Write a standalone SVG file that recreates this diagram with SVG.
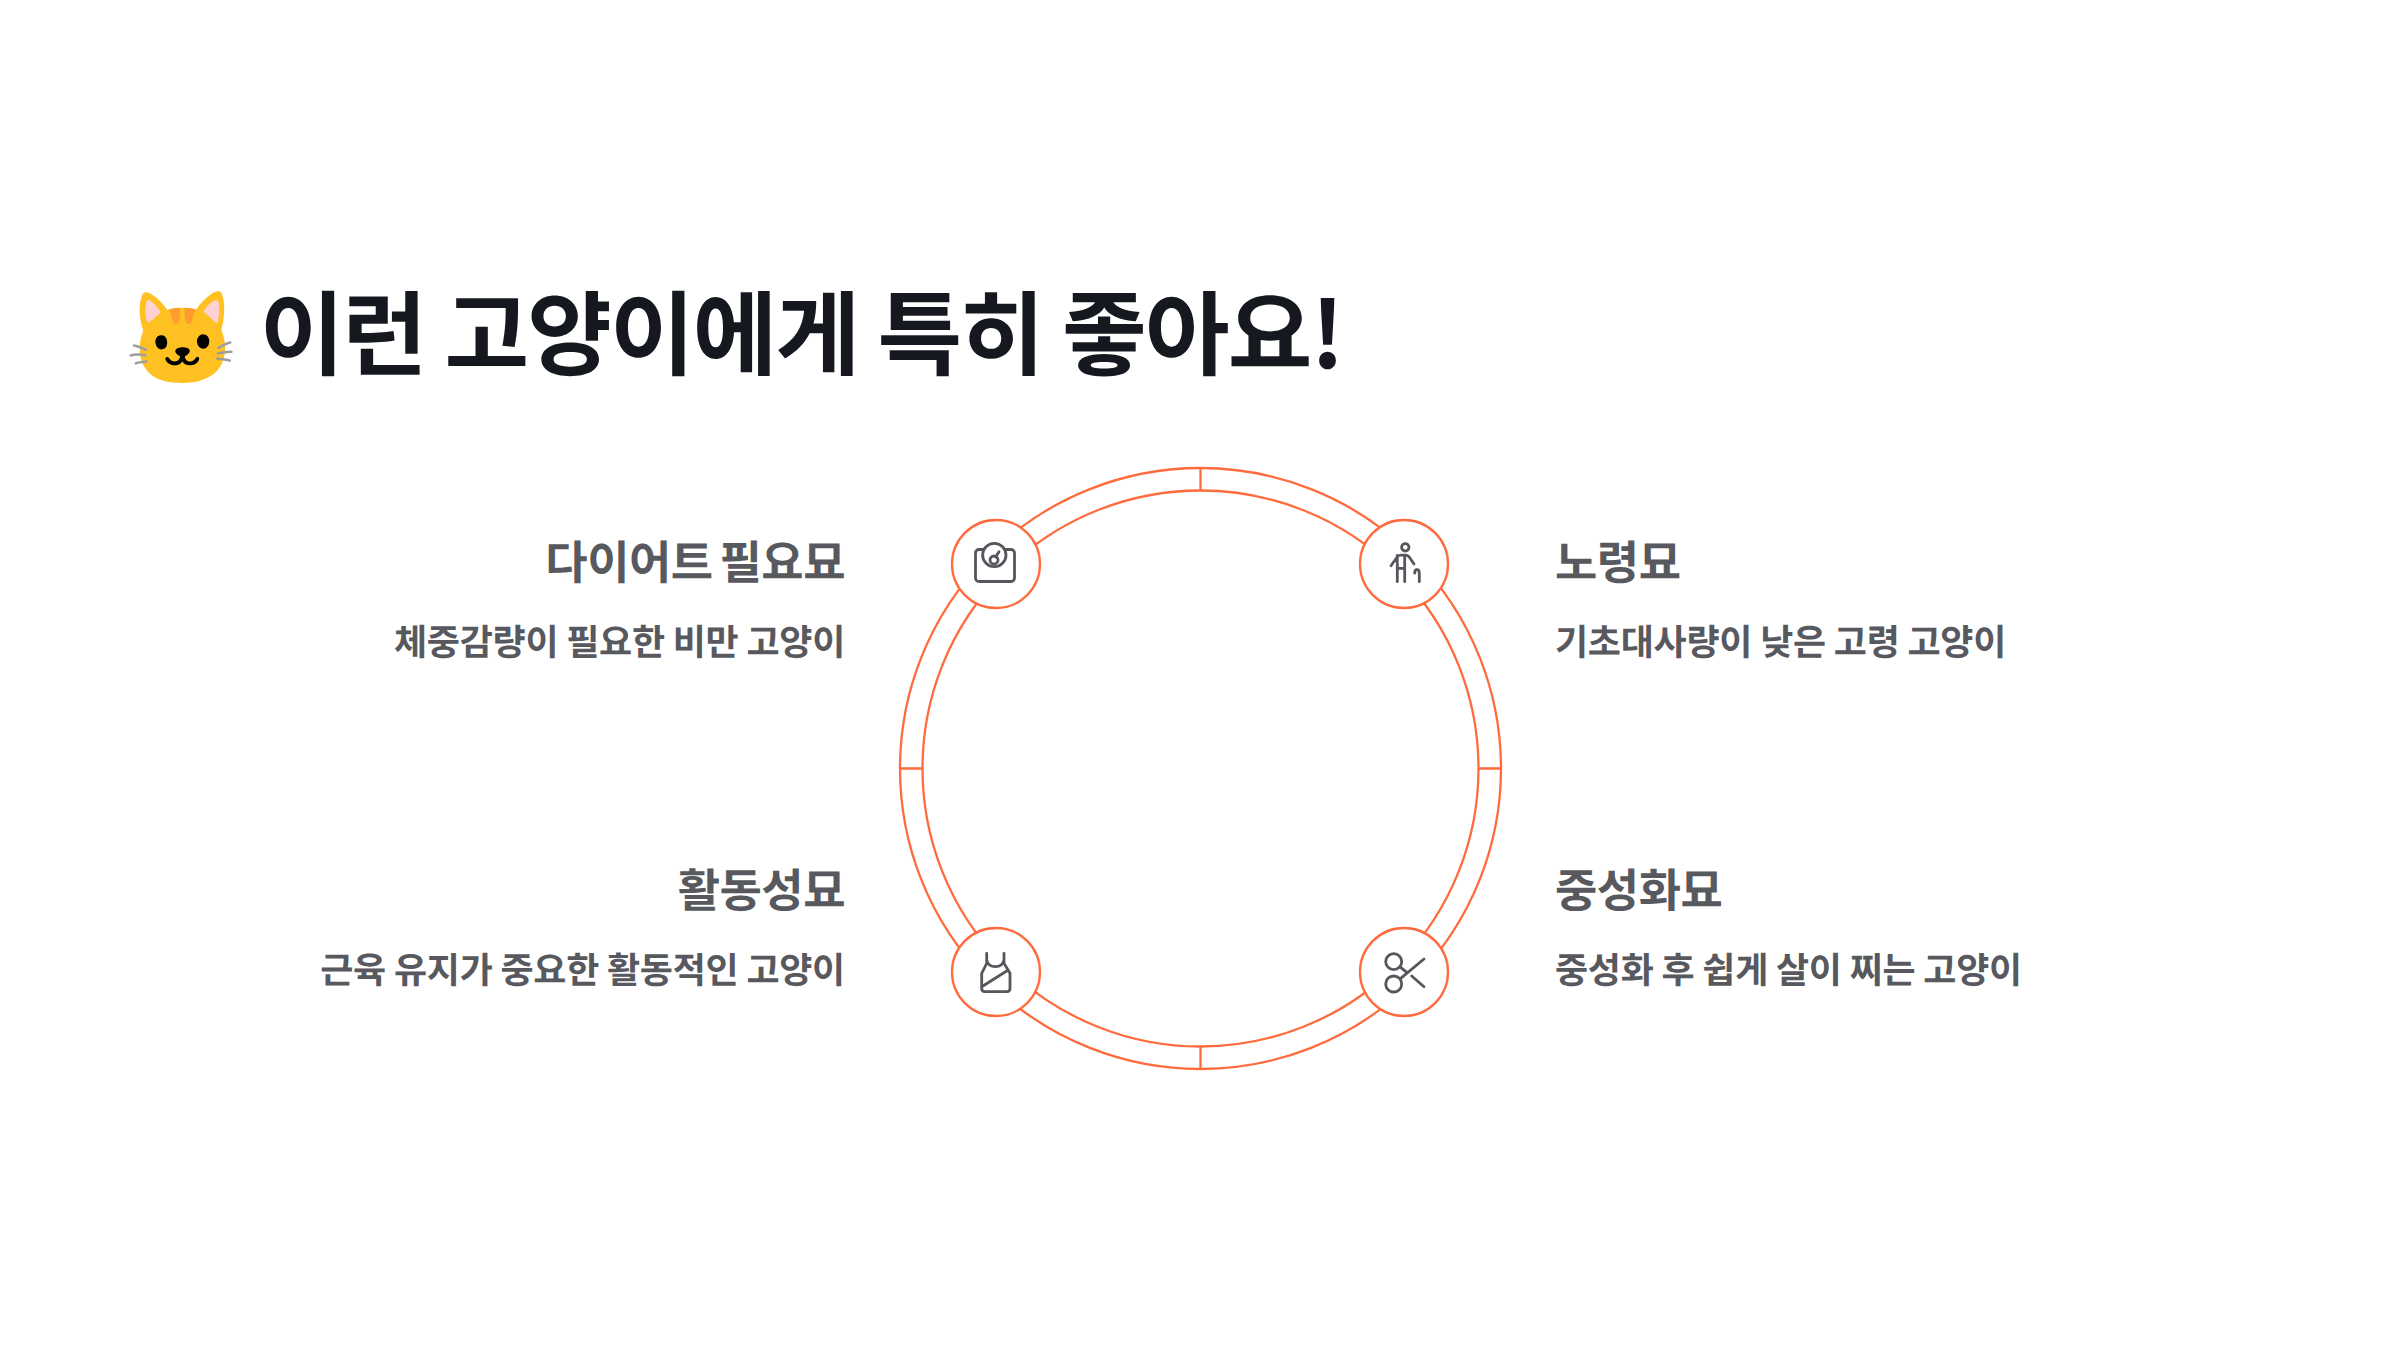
<svg xmlns="http://www.w3.org/2000/svg" width="2400" height="1350" viewBox="0 0 2400 1350">
<style>
text{font-family:"Noto Sans CJK KR",sans-serif;text-rendering:geometricPrecision}
.t{font-size:92px;font-weight:700;fill:#15191f;letter-spacing:-1.84px}
.h{font-size:46px;font-weight:700;fill:#58595e;letter-spacing:-.5px;word-spacing:-3px}
.d{font-size:36px;font-weight:700;fill:#58595e;letter-spacing:-.25px}
.r{text-anchor:end}
.ring{fill:none;stroke:#ff6b3d;stroke-width:2.300}
.c{fill:#fff;stroke:#ff6b3d;stroke-width:2.300}
.i{fill:none;stroke:#55575c;stroke-width:2.800;stroke-linecap:round;stroke-linejoin:round}
</style>
<rect width="2400" height="1350" fill="#fff"/>
<text id="title" class="t" x="125" y="368"><tspan dy="3">🐱</tspan><tspan dy="-3" dx="3"> 이런 고양이에게 특히 좋아요!</tspan></text>
<g id="connectors">
<circle class="ring" cx="1200.500" cy="768.500" r="300.500"/>
<circle class="ring" cx="1200.500" cy="768.500" r="278"/>
<path class="ring" d="M1200.500 468V490.500M1200.500 1046.500V1069M900 768.500H922.500M1478.500 768.500H1501"/>
</g>
<g id="node-diet">
<circle class="c" cx="996" cy="564" r="44"/>
<path class="i" d="M983 549.500h-4a3.500 3.500 0 0 0-3.500 3.500v25a3.500 3.500 0 0 0 3.500 3.500h32a3.500 3.500 0 0 0 3.500-3.500v-25a3.500 3.500 0 0 0-3.500-3.500h-5"/>
<circle class="i" cx="994.300" cy="555" r="11.700"/>
<circle class="i" cx="994" cy="560" r="4"/>
<path class="i" d="M995.700 557L999 551.700"/>
<text class="h r" x="845" y="579">다이어트 필요묘</text>
<text class="d r" x="845" y="655">체중감량이 필요한 비만 고양이</text>
</g>
<g id="node-senior">
<circle class="c" cx="1404" cy="564" r="44"/>
<circle class="i" cx="1405.300" cy="547.300" r="3.700"/>
<path class="i" d="M1391 565.700l6-8.500q1.500-2 4-2h4q2.500 0 4 1.500l5 7.300M1397.300 555.500v26.200M1404.700 555.500v26.200M1397.300 568.300h7.400M1419.300 581.700v-8q0-4-2.300-4t-2.300 3.500"/>
<text class="h" x="1555" y="579">노령묘</text>
<text class="d" x="1555" y="655">기초대사량이 낮은 고령 고양이</text>
</g>
<g id="node-active">
<circle class="c" cx="996" cy="972" r="44"/>
<path class="i" d="M986.700 953.300v10l-5 10v15.300q0 3 3 3h22.300q3 0 3-3v-15.300l-6-10v-10M986.700 960q1.500 6.700 8.650 6.700t8.650-6.700M981.700 986.700L1008.300 970"/>
<text class="h r" x="845" y="907">활동성묘</text>
<text class="d r" x="845" y="983">근육 유지가 중요한 활동적인 고양이</text>
</g>
<g id="node-neuter">
<circle class="c" cx="1404" cy="972" r="44"/>
<circle class="i" cx="1393.700" cy="961.700" r="8"/>
<circle class="i" cx="1393.700" cy="984" r="8"/>
<path class="i" d="M1400.700 967.300l6 5M1400.700 978.300L1424 959M1411.700 976L1424 986.700"/>
<text class="h" x="1555" y="907">중성화묘</text>
<text class="d" x="1555" y="983">중성화 후 쉽게 살이 찌는 고양이</text>
</g>
</svg>
